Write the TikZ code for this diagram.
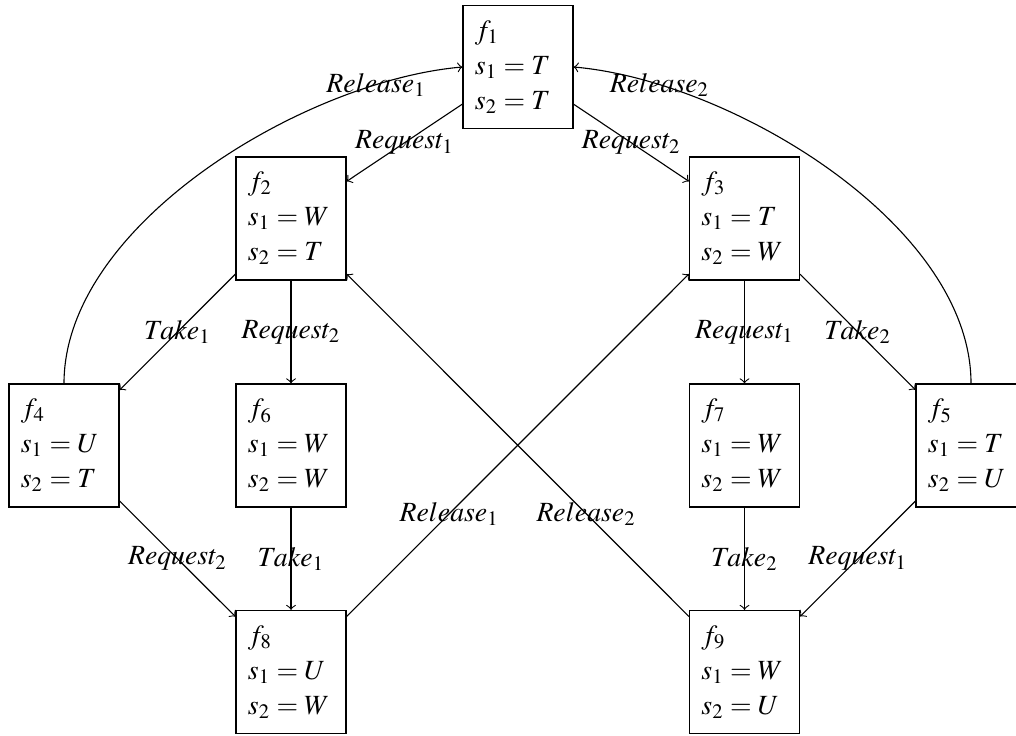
\documentclass[tikz,border=0pt]{standalone}
\usepackage{mathptmx}
\begin{document}
\begin{tikzpicture}[x=0.36pt,y=0.36pt,
  state/.style={draw, rectangle, minimum width=39.6pt, minimum height=44.3pt,
    text width=31pt, inner xsep=4.3pt, inner ysep=2pt, align=left,
    font=\fontsize{10pt}{12.6pt}\selectfont},
  lbl/.style={font=\fontsize{10pt}{12pt}\selectfont, inner sep=1pt},
  tr/.style={->}]
\useasboundingbox (0,0) rectangle (1016,-735);
\node[state] (f1) at (518,-67)    {$f_1$\\$s_1=T$\\$s_2=T$};
\node[state] (f2) at (291,-218.5) {$f_2$\\$s_1=W$\\$s_2=T$};
\node[state] (f3) at (744.5,-218.5) {$f_3$\\$s_1=T$\\$s_2=W$};
\node[state] (f4) at (64,-445.5)  {$f_4$\\$s_1=U$\\$s_2=T$};
\node[state] (f6) at (291,-445.5) {$f_6$\\$s_1=W$\\$s_2=W$};
\node[state] (f7) at (744.5,-445.5) {$f_7$\\$s_1=W$\\$s_2=W$};
\node[state] (f5) at (971,-445.5) {$f_5$\\$s_1=T$\\$s_2=U$};
\node[state] (f8) at (291,-672)   {$f_8$\\$s_1=U$\\$s_2=W$};
\node[state] (f9) at (744.5,-672) {$f_9$\\$s_1=W$\\$s_2=U$};

\draw[tr] (f1) -- node[lbl]{$Request_1$} (f2);
\draw[tr] (f1) -- node[lbl]{$Request_2$} (f3);
\draw[tr] (f2) -- node[lbl]{$Take_1$} (f4);
\draw[tr] (f2) -- node[lbl]{$Request_2$} (f6);
\draw[tr] (f3) -- node[lbl]{$Request_1$} (f7);
\draw[tr] (f3) -- node[lbl]{$Take_2$} (f5);
\draw[tr] (f4) -- node[lbl]{$Request_2$} (f8);
\draw[tr] (f6) -- node[lbl]{$Take_1$} (f8);
\draw[tr] (f7) -- node[lbl]{$Take_2$} (f9);
\draw[tr] (f5) -- node[lbl]{$Request_1$} (f9);
\draw[tr] (f8) -- node[lbl,pos=0.3]{$Release_1$} (f3);
\draw[tr] (f9) -- node[lbl,pos=0.3]{$Release_2$} (f2);
\draw[tr] (f4.north) to[out=90,in=185,looseness=0.8] node[lbl,pos=0.83]{$Release_1$} (f1.west);
\draw[tr] (f5.north) to[out=90,in=-5,looseness=0.8] node[lbl,pos=0.83]{$Release_2$} (f1.east);
\end{tikzpicture}
\end{document}
